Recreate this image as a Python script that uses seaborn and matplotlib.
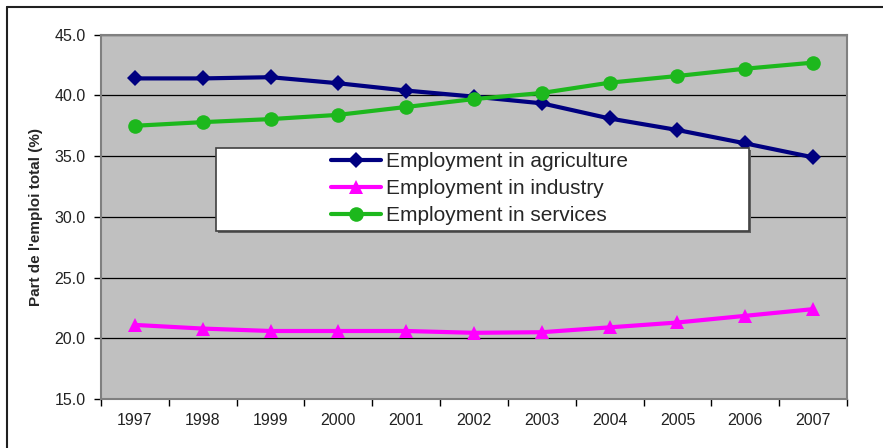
import numpy as np
import pandas as pd
import matplotlib
matplotlib.use("Agg")
import matplotlib.pyplot as plt
from matplotlib.lines import Line2D
from matplotlib.patches import Rectangle
import seaborn as sns

# Données
annees = ["1997", "1998", "1999", "2000", "2001", "2002", "2003", "2004", "2005", "2006", "2007"]
agriculture = [41.4, 41.4, 41.5, 41.0, 40.4, 39.9, 39.35, 38.1, 37.15, 36.05, 34.9]
industrie = [21.1, 20.8, 20.6, 20.6, 20.6, 20.45, 20.5, 20.9, 21.3, 21.85, 22.4]
services = [37.5, 37.8, 38.05, 38.4, 39.05, 39.7, 40.2, 41.05, 41.6, 42.2, 42.7]
series = ["Employment in agriculture", "Employment in industry", "Employment in services"]
couleurs = ["#000080", "#FF00FF", "#1DB81D"]
marqueurs = ["D", "^", "o"]
yticks = [15.0, 20.0, 25.0, 30.0, 35.0, 40.0, 45.0]


def main():
    sns.set_style("ticks")
    plt.rcParams["font.family"] = ["Liberation Sans", "DejaVu Sans"]

    df = pd.DataFrame({
        "pos": list(range(len(annees))) * 3,
        "valeur": agriculture + industrie + services,
        "serie": [s for s in series for _ in annees],
    })

    fig = plt.figure(figsize=(8.83, 4.48), dpi=100)
    ax = fig.add_axes([101 / 883, 1 - 399 / 448, 746 / 883, 364.3 / 448])
    ax.set_facecolor("#C0C0C0")

    sns.lineplot(data=df, x="pos", y="valeur", hue="serie", style="serie",
                 hue_order=series, style_order=series, palette=couleurs,
                 markers=marqueurs, dashes=False, errorbar=None, linewidth=3,
                 markersize=9, markeredgewidth=0, legend=False, ax=ax, zorder=3)
    lignes = ax.get_lines()[:3]
    tailles = [8, 10, 10.5]
    for ln, ms in zip(lignes, tailles):
        ln.set_markersize(ms)

    ax.set_xlim(-0.5, len(annees) - 0.5)
    ax.set_ylim(15, 45)
    ax.set_xticks(range(len(annees)))
    ax.set_xticklabels(annees)
    ax.set_xticks(np.arange(-0.5, len(annees), 1), minor=True)
    ax.tick_params(axis="x", which="major", length=0, pad=10, labelsize=11.5, colors="#222222")
    ax.tick_params(axis="x", which="minor", length=5, width=1, color="black")
    ax.set_yticks(yticks)
    ax.set_yticklabels([f"{v:.1f}" for v in yticks])
    ax.tick_params(axis="y", length=5, width=1, pad=6, labelsize=11.5, colors="#222222")
    ax.tick_params(axis="y", color="black")

    ax.yaxis.grid(True, color="black", linewidth=0.9)
    ax.set_axisbelow(True)
    for sp in ax.spines.values():
        sp.set_color("#808080")
        sp.set_linewidth(1.5)
        sp.set_visible(True)

    ax.set_xlabel("")
    ax.set_ylabel("Part de l'emploi total (%)", fontsize=11, fontweight="bold")
    ax.yaxis.set_label_coords(-0.078, 0.5)

    # Cadre de la légende avec ombre
    x0, x1 = (216 - 101) / 746, (749 - 101) / 746
    y0, y1 = (399 - 231) / 364.3, (399 - 148) / 364.3
    ax.add_patch(Rectangle((x0 + 0.003, y0 - 0.006), x1 - x0, y1 - y0, transform=ax.transAxes,
                           facecolor="#606060", edgecolor="none", zorder=5))
    ax.add_patch(Rectangle((x0, y0), x1 - x0, y1 - y0, transform=ax.transAxes,
                           facecolor="white", edgecolor="#404040", linewidth=1.2, zorder=6))
    leg = ax.legend(lignes, series, loc="center",
                    bbox_to_anchor=((x0 + x1) / 2 - 0.004, (y0 + y1) / 2 + 0.003),
                    frameon=False, fontsize=15, handlelength=2.4, handletextpad=0.2,
                    labelspacing=0.38, borderpad=0)
    leg.set_zorder(7)

    # Cadre extérieur (bords gauche et haut)
    fig.add_artist(Line2D([7 / 883, 7 / 883], [0, 1 - 7 / 448], color="#202020", linewidth=1.5))
    fig.add_artist(Line2D([7 / 883, 1], [1 - 7 / 448, 1 - 7 / 448], color="#202020", linewidth=1.5))

    fig.savefig("out.png", dpi=100)


if __name__ == "__main__":
    main()
